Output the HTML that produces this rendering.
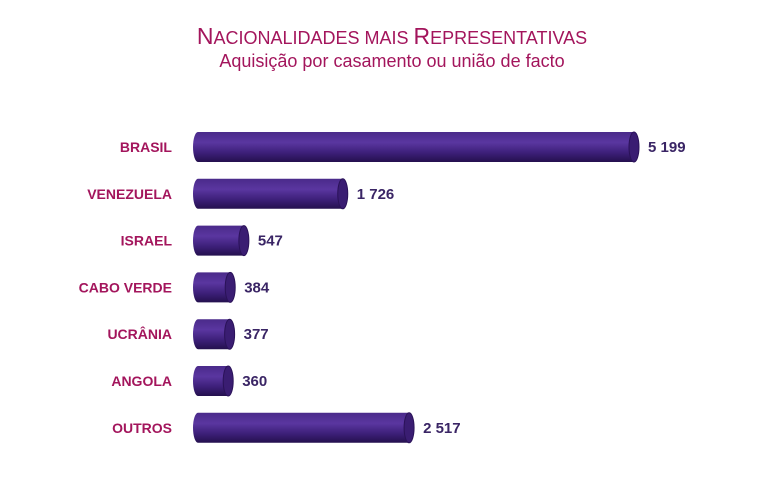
<!DOCTYPE html>
<html><head><meta charset="utf-8"><style>
body{margin:0;background:#fff;width:777px;height:476px;overflow:hidden;font-family:"Liberation Sans",sans-serif}
</style></head><body>
<svg width="777" height="476">
<defs>
<linearGradient id="g" x1="0" y1="0" x2="0" y2="1">
<stop offset="0" stop-color="#4a2a8a"/><stop offset="0.35" stop-color="#5a36a0"/><stop offset="0.7" stop-color="#3c1f78"/><stop offset="1" stop-color="#24104e"/>
</linearGradient>
</defs>
<text x="392" y="44" text-anchor="middle" fill="#a3155c" font-size="23">N<tspan font-size="18">ACIONALIDADES MAIS </tspan>R<tspan font-size="18">EPRESENTATIVAS</tspan></text>
<text x="392" y="67" text-anchor="middle" fill="#a3155c" font-size="18">Aquisição por casamento ou união de facto</text>
<g id="bars"></g>
</svg>
<script>
const categories=["BRASIL","VENEZUELA","ISRAEL","CABO VERDE","UCRÂNIA","ANGOLA","OUTROS"];
const values=[5199,1726,547,384,377,360,2517];
const valueLabels=["5 199","1 726","547","384","377","360","2 517"];
const NS="http://www.w3.org/2000/svg";
const g=document.getElementById('bars');
const x=v=>198+v*(634-198)/5199;
const y=i=>147+i*46.8;
const h=30,rx=5;
function mk(t,a){const e=document.createElementNS(NS,t);for(const k in a)e.setAttribute(k,a[k]);g.appendChild(e);return e;}
categories.forEach((c,i)=>{
const cy=y(i),xe=x(values[i]);
const b=mk('path',{d:`M198 ${cy-h/2} L${xe} ${cy-h/2} A${rx} ${h/2} 0 0 1 ${xe} ${cy+h/2} L198 ${cy+h/2} A${rx} ${h/2} 0 0 1 198 ${cy-h/2} Z`,fill:'url(#g)'});


const cap=mk('ellipse',{cx:xe,cy:cy,rx:rx,ry:h/2,fill:'#3a1d72',stroke:'#2a1258','stroke-width':1});


const l=mk('text',{x:172,y:cy+5,'text-anchor':'end',fill:'#a3155c','font-size':14,'font-weight':'bold'});
l.textContent=c;


const v=mk('text',{x:xe+rx+9,y:cy+5,fill:'#3a2565','font-size':15,'font-weight':'bold'});
v.textContent=valueLabels[i];


});
</script>
</body></html>
